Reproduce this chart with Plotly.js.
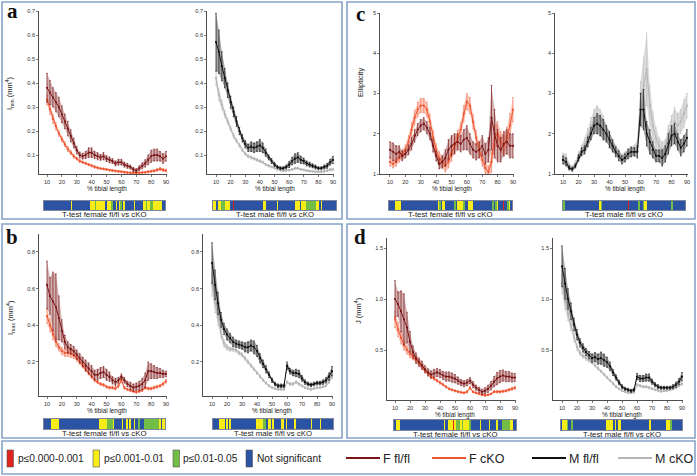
<!DOCTYPE html>
<html><head><meta charset="utf-8">
<script src="https://cdn.plot.ly/plotly-3.0.1.min.js"></script>
<style>html,body{margin:0;padding:0;background:#fff}#chart{width:697px;height:476px}</style>
</head><body><div id="chart"></div>
<script>
// ---------------- DATA ----------------
const pct = [10,12,14,16,18,20,22,24,26,28,30,32,34,36,38,40,42,44,46,48,50,52,54,56,58,60,62,64,66,68,70,72,74,76,78,80,82,84,86,88,90];
const xTicks = [10,20,30,40,50,60,70,80,90];

// a: Imin
const IminF_flfl    = [0.38,0.36,0.34,0.32,0.30,0.27,0.24,0.21,0.18,0.15,0.12,0.10,0.095,0.10,0.11,0.11,0.10,0.095,0.09,0.095,0.085,0.08,0.075,0.065,0.07,0.07,0.06,0.055,0.05,0.04,0.035,0.045,0.055,0.065,0.08,0.095,0.10,0.10,0.095,0.085,0.095];
const IminF_flfl_se = [0.06,0.05,0.04,0.04,0.04,0.035,0.03,0.03,0.025,0.02,0.015,0.012,0.012,0.015,0.02,0.02,0.015,0.015,0.012,0.015,0.012,0.012,0.01,0.01,0.012,0.012,0.01,0.01,0.008,0.008,0.008,0.01,0.012,0.015,0.02,0.025,0.025,0.025,0.02,0.02,0.02];
const IminF_cko     = [0.33,0.29,0.25,0.22,0.19,0.165,0.145,0.125,0.11,0.095,0.085,0.075,0.07,0.065,0.06,0.055,0.05,0.047,0.044,0.042,0.04,0.037,0.035,0.033,0.031,0.03,0.028,0.027,0.026,0.026,0.025,0.026,0.027,0.028,0.03,0.032,0.034,0.038,0.042,0.038,0.035];
const IminF_cko_se  = [0.02,0.02,0.018,0.015,0.012,0.01,0.01,0.01,0.008,0.008,0.006,0.006,0.005,0.005,0.005,0.005,0.005,0.005,0.004,0.004,0.004,0.004,0.004,0.004,0.004,0.004,0.004,0.004,0.004,0.004,0.004,0.004,0.004,0.004,0.005,0.005,0.005,0.006,0.006,0.006,0.006];
const IminM_flfl    = [0.57,0.53,0.47,0.42,0.37,0.32,0.28,0.24,0.20,0.17,0.145,0.13,0.135,0.13,0.135,0.14,0.13,0.11,0.09,0.075,0.06,0.05,0.045,0.045,0.05,0.06,0.075,0.085,0.09,0.08,0.075,0.065,0.06,0.055,0.05,0.045,0.045,0.05,0.055,0.07,0.08];
const IminM_flfl_se = [0.12,0.09,0.06,0.04,0.03,0.025,0.02,0.02,0.015,0.015,0.015,0.015,0.02,0.02,0.02,0.025,0.02,0.015,0.01,0.01,0.008,0.006,0.006,0.006,0.008,0.012,0.015,0.02,0.02,0.015,0.012,0.01,0.01,0.008,0.008,0.006,0.006,0.008,0.01,0.012,0.015];
const IminM_cko     = [0.42,0.35,0.31,0.27,0.24,0.21,0.18,0.16,0.14,0.12,0.105,0.095,0.09,0.085,0.08,0.075,0.07,0.06,0.055,0.05,0.045,0.04,0.037,0.035,0.035,0.037,0.04,0.045,0.045,0.04,0.038,0.035,0.033,0.032,0.03,0.03,0.03,0.032,0.035,0.04,0.04];
const IminM_cko_se  = [0.03,0.025,0.02,0.015,0.012,0.01,0.01,0.008,0.008,0.006,0.006,0.006,0.006,0.006,0.006,0.006,0.005,0.005,0.005,0.004,0.004,0.004,0.004,0.004,0.004,0.004,0.004,0.005,0.005,0.004,0.004,0.004,0.004,0.004,0.004,0.004,0.004,0.004,0.004,0.005,0.005];
const IminTicks = [0.1,0.2,0.3,0.4,0.5,0.6,0.7];

// b: Imax
const ImaxF_flfl    = [0.62,0.56,0.53,0.50,0.44,0.37,0.31,0.28,0.27,0.26,0.24,0.22,0.20,0.18,0.165,0.15,0.13,0.13,0.14,0.145,0.13,0.12,0.10,0.09,0.10,0.12,0.10,0.08,0.07,0.06,0.065,0.07,0.08,0.10,0.15,0.15,0.145,0.14,0.14,0.135,0.135];
const ImaxF_flfl_se = [0.13,0.10,0.16,0.18,0.12,0.06,0.035,0.03,0.025,0.025,0.025,0.025,0.025,0.03,0.03,0.03,0.025,0.03,0.03,0.03,0.03,0.025,0.02,0.02,0.015,0.015,0.015,0.015,0.02,0.02,0.02,0.025,0.03,0.04,0.05,0.04,0.035,0.03,0.025,0.02,0.015];
const ImaxF_cko     = [0.45,0.40,0.35,0.31,0.28,0.26,0.25,0.25,0.245,0.235,0.22,0.20,0.18,0.16,0.14,0.12,0.10,0.09,0.08,0.075,0.065,0.06,0.06,0.055,0.07,0.10,0.06,0.05,0.045,0.04,0.035,0.04,0.045,0.06,0.055,0.055,0.06,0.065,0.07,0.08,0.095];
const ImaxF_cko_se  = [0.04,0.035,0.03,0.025,0.02,0.02,0.02,0.02,0.02,0.015,0.015,0.012,0.012,0.01,0.01,0.01,0.008,0.008,0.008,0.008,0.008,0.008,0.008,0.008,0.01,0.012,0.008,0.006,0.006,0.006,0.006,0.006,0.006,0.008,0.008,0.008,0.008,0.008,0.008,0.01,0.01];
const ImaxM_flfl    = [0.74,0.62,0.52,0.43,0.38,0.35,0.33,0.31,0.30,0.295,0.29,0.28,0.28,0.29,0.28,0.26,0.22,0.19,0.16,0.13,0.10,0.08,0.07,0.07,0.07,0.18,0.15,0.14,0.14,0.135,0.11,0.09,0.08,0.075,0.08,0.085,0.085,0.09,0.10,0.12,0.15];
const ImaxM_flfl_se = [0.11,0.08,0.06,0.04,0.03,0.03,0.025,0.025,0.02,0.02,0.02,0.025,0.03,0.03,0.035,0.03,0.025,0.02,0.02,0.015,0.012,0.01,0.01,0.01,0.01,0.02,0.015,0.015,0.02,0.02,0.015,0.012,0.01,0.01,0.01,0.01,0.01,0.012,0.015,0.02,0.025];
const ImaxM_cko     = [0.62,0.52,0.44,0.36,0.30,0.28,0.27,0.27,0.265,0.25,0.24,0.22,0.20,0.18,0.16,0.14,0.12,0.10,0.085,0.07,0.06,0.055,0.05,0.05,0.05,0.09,0.08,0.08,0.09,0.08,0.07,0.06,0.055,0.05,0.055,0.06,0.06,0.065,0.07,0.09,0.12];
const ImaxM_cko_se  = [0.06,0.05,0.04,0.03,0.02,0.015,0.012,0.012,0.012,0.01,0.01,0.01,0.01,0.008,0.008,0.008,0.008,0.006,0.006,0.006,0.005,0.005,0.005,0.005,0.005,0.008,0.008,0.008,0.008,0.008,0.006,0.006,0.005,0.005,0.005,0.005,0.005,0.006,0.006,0.008,0.01];
const ImaxTicks = [0.2,0.4,0.6,0.8];

// c: Ellipticity
const EllF_flfl    = [1.6,1.55,1.5,1.55,1.45,1.5,1.6,1.75,1.95,2.1,2.2,2.25,2.15,2.0,1.7,1.45,1.25,1.3,1.4,1.6,1.7,1.75,1.8,1.75,1.85,1.9,1.75,1.6,1.55,1.6,1.7,1.5,1.6,2.4,2.0,1.7,1.6,1.75,1.8,1.7,1.7];
const EllF_flfl_se = [0.2,0.22,0.2,0.15,0.12,0.1,0.12,0.15,0.15,0.15,0.15,0.15,0.15,0.15,0.15,0.12,0.12,0.15,0.2,0.25,0.25,0.25,0.2,0.2,0.25,0.3,0.25,0.2,0.2,0.2,0.25,0.25,0.3,0.8,0.6,0.4,0.3,0.3,0.3,0.3,0.3];
const EllF_cko     = [1.3,1.25,1.3,1.4,1.5,1.6,1.8,2.1,2.4,2.6,2.7,2.7,2.6,2.3,1.9,1.6,1.4,1.3,1.2,1.3,1.5,1.7,1.9,2.1,2.5,2.8,2.7,2.3,1.9,1.6,1.35,1.15,1.05,1.3,1.9,2.0,1.8,1.7,1.9,2.2,2.6];
const EllF_cko_se  = [0.1,0.1,0.1,0.1,0.1,0.12,0.15,0.18,0.18,0.18,0.18,0.18,0.18,0.18,0.18,0.15,0.15,0.15,0.15,0.15,0.18,0.18,0.18,0.18,0.2,0.2,0.2,0.18,0.18,0.18,0.15,0.15,0.15,0.25,0.3,0.3,0.25,0.25,0.25,0.3,0.3];
const EllM_flfl    = [1.35,1.3,1.15,1.12,1.2,1.4,1.55,1.6,1.8,2.0,2.2,2.25,2.2,2.1,2.0,1.85,1.7,1.55,1.45,1.35,1.4,1.5,1.55,1.55,1.55,2.6,2.6,2.0,1.8,1.6,1.45,1.45,1.4,1.5,1.75,1.95,2.0,1.8,1.65,1.75,1.9];
const EllM_flfl_se = [0.1,0.1,0.05,0.05,0.05,0.08,0.1,0.1,0.12,0.15,0.2,0.25,0.25,0.25,0.2,0.2,0.15,0.12,0.12,0.1,0.1,0.12,0.12,0.1,0.15,0.4,0.5,0.3,0.3,0.2,0.15,0.15,0.2,0.2,0.25,0.25,0.25,0.2,0.2,0.2,0.2];
const EllM_cko     = [1.4,1.35,1.2,1.15,1.25,1.45,1.6,1.75,1.95,2.2,2.35,2.4,2.3,2.2,2.0,1.85,1.7,1.6,1.5,1.4,1.45,1.5,1.55,1.6,1.7,2.8,3.2,3.6,2.7,2.2,1.9,1.7,1.6,1.6,1.9,2.1,2.3,2.2,2.3,2.5,2.7];
const EllM_cko_se  = [0.12,0.15,0.08,0.05,0.08,0.1,0.12,0.15,0.18,0.2,0.25,0.3,0.3,0.25,0.2,0.18,0.15,0.12,0.12,0.1,0.1,0.1,0.12,0.12,0.15,0.5,0.7,0.9,0.5,0.35,0.25,0.2,0.2,0.25,0.3,0.35,0.35,0.3,0.3,0.35,0.3];
const EllTicks = [1,2,3,4,5];

// d: J
const JF_flfl    = [1.0,0.95,0.88,0.80,0.72,0.58,0.48,0.42,0.38,0.35,0.31,0.28,0.26,0.27,0.28,0.27,0.25,0.24,0.24,0.23,0.22,0.20,0.18,0.17,0.18,0.20,0.16,0.13,0.11,0.09,0.10,0.12,0.15,0.19,0.22,0.24,0.25,0.24,0.24,0.23,0.23];
const JF_flfl_se = [0.18,0.12,0.2,0.25,0.15,0.1,0.06,0.05,0.04,0.04,0.035,0.035,0.035,0.04,0.04,0.04,0.04,0.045,0.045,0.045,0.04,0.035,0.03,0.03,0.03,0.03,0.03,0.025,0.025,0.025,0.03,0.035,0.04,0.05,0.06,0.06,0.055,0.05,0.05,0.045,0.04];
const JF_cko     = [0.80,0.70,0.62,0.55,0.50,0.46,0.44,0.41,0.38,0.34,0.30,0.27,0.24,0.22,0.20,0.18,0.16,0.14,0.12,0.11,0.10,0.09,0.085,0.08,0.09,0.13,0.09,0.08,0.07,0.06,0.055,0.06,0.07,0.09,0.09,0.09,0.095,0.10,0.11,0.12,0.13];
const JF_cko_se  = [0.08,0.07,0.06,0.05,0.04,0.035,0.035,0.03,0.03,0.025,0.02,0.02,0.02,0.015,0.015,0.015,0.012,0.012,0.01,0.01,0.01,0.01,0.01,0.01,0.012,0.015,0.01,0.008,0.008,0.008,0.008,0.008,0.008,0.012,0.012,0.012,0.012,0.012,0.012,0.015,0.015];
const JM_flfl    = [1.32,1.15,1.0,0.88,0.75,0.65,0.57,0.52,0.48,0.45,0.42,0.43,0.41,0.42,0.40,0.38,0.34,0.28,0.23,0.18,0.14,0.12,0.11,0.10,0.11,0.24,0.22,0.22,0.23,0.23,0.19,0.16,0.14,0.13,0.13,0.13,0.13,0.14,0.16,0.19,0.24];
const JM_flfl_se = [0.2,0.15,0.1,0.08,0.06,0.05,0.04,0.04,0.035,0.035,0.04,0.045,0.05,0.06,0.06,0.05,0.04,0.03,0.025,0.02,0.02,0.015,0.015,0.015,0.015,0.03,0.03,0.03,0.035,0.035,0.025,0.02,0.02,0.015,0.015,0.015,0.015,0.02,0.025,0.03,0.04];
const JM_cko     = [1.15,0.98,0.85,0.74,0.62,0.53,0.47,0.44,0.42,0.40,0.38,0.35,0.32,0.29,0.26,0.23,0.20,0.17,0.14,0.12,0.10,0.09,0.08,0.08,0.085,0.16,0.15,0.14,0.14,0.13,0.12,0.11,0.10,0.095,0.10,0.10,0.11,0.12,0.13,0.15,0.17];
const JM_cko_se  = [0.1,0.08,0.06,0.05,0.04,0.03,0.025,0.02,0.02,0.02,0.015,0.015,0.015,0.012,0.012,0.012,0.01,0.01,0.01,0.008,0.008,0.008,0.008,0.008,0.008,0.012,0.012,0.012,0.012,0.012,0.01,0.01,0.01,0.01,0.01,0.01,0.01,0.01,0.012,0.012,0.015];
const JTicks = [0.5,1.0,1.5];
const JTickText = ['0.5','1.0','1.5'];

// T-test significance runs: [from %, to %, level]  level 1: p<=0.000-0.001, 2: p<=0.001-0.01, 3: p<=0.01-0.05 (else not significant)
const stripPct = [];
for (let p = 10; p <= 90; p++) stripPct.push(p);
const sig_Imin_F = [[28,28,2],[41,43,2],[44,44,3],[45,50,2],[52,54,2],[55,55,3],[58,58,2],[60,60,2],[61,61,3],[63,63,2],[70,70,2],[76,77,2],[78,78,3],[79,80,2],[81,82,3],[83,88,2]];
const sig_Imin_M = [[10,11,2],[13,14,2],[15,17,3],[18,20,2],[23,23,1],[43,44,2],[52,52,2],[64,66,2],[68,70,2],[71,77,3],[78,79,2],[81,81,2]];
const sig_Imax_F = [[15,19,2],[47,51,2],[52,55,3],[56,56,2],[62,62,2],[65,65,2],[67,67,2],[70,70,2],[73,73,3],[77,86,3],[87,87,2],[89,90,2]];
const sig_Imax_M = [[14,17,2],[19,19,2],[21,21,2],[39,43,2],[44,45,3],[47,48,2],[50,50,2],[56,57,2],[59,59,2],[65,65,2],[76,76,2],[82,82,2]];
const sig_Ell_F  = [[14,17,2],[42,42,2],[43,43,3],[45,46,2],[53,53,3],[55,58,2],[59,59,3],[62,64,2],[78,78,3],[80,80,3],[81,81,2],[85,85,1],[88,88,3],[89,89,2]];
const sig_Ell_M  = [[10,10,3],[34,34,2],[35,35,3],[53,53,1],[60,60,3],[63,63,3],[64,65,2],[82,82,3]];
const sig_J_F    = [[11,13,2],[43,43,2],[46,48,2],[49,49,1],[50,50,2],[51,53,3],[54,54,2],[55,55,3],[56,59,2],[60,60,3],[67,67,2],[73,73,2],[78,78,2],[82,86,3],[87,88,2]];
const sig_J_M    = [[11,13,2],[14,14,3],[17,17,3],[40,44,2],[46,46,2],[48,49,2],[69,69,2],[80,82,2],[83,83,3]];

const sigLabels = ['p\u22640.000-0.001','p\u22640.001-0.01','p\u22640.01-0.05','Not significant'];
const groupLabels = ['F fl/fl','F cKO','M fl/fl','M cKO'];

// ---------------- STYLE / LAYOUT ----------------
const W = 697, H = 476;
const PX = v => v / W, PY = v => 1 - v / H;
const C_RED = '#e0231c', C_YEL = '#f5ec18', C_GRN = '#71bd45', C_BLU = '#2b52a3';
const ST = {
  Ffl:  {line:'#7a1517', band:'rgba(150,70,70,0.42)', err:'#7a1517'},
  Fcko: {line:'#ee5430', band:'rgba(246,135,105,0.45)', err:'#f27a5c'},
  Mfl:  {line:'#111111', band:'rgba(80,80,80,0.5)', err:'#111111'},
  Mcko: {line:'#b5b5b5', band:'rgba(190,190,190,0.55)', err:'#c2c2c2'}
};
const FONT = 'Liberation Sans, Arial, sans-serif';

const traces = [];
const layout = {
  width: W, height: H, margin:{l:0,r:0,t:0,b:0},
  paper_bgcolor:'#fff', plot_bgcolor:'rgba(0,0,0,0)',
  showlegend:false, font:{family:FONT, color:'#222'},
  shapes:[], annotations:[]
};
const axName = n => n === 1 ? '' : String(n);

function addSeries(n, x, m, e, st) {
  const lo = m.map((v,i) => v - e[i]);
  const up = m.map((v,i) => v + e[i]);
  const ax = {xaxis:'x'+axName(n), yaxis:'y'+axName(n), hoverinfo:'skip', showlegend:false};
  traces.push(Object.assign({x:x, y:lo, mode:'lines', line:{width:0, color:st.band}}, ax));
  traces.push(Object.assign({x:x, y:up, mode:'lines', fill:'tonexty', fillcolor:st.band, line:{width:0, color:st.band}}, ax));
  return Object.assign({x:x, y:m, mode:'lines+markers', line:{color:st.line, width:1},
    marker:{size:2.2, color:st.line},
    error_y:{type:'data', array:e, visible:true, color:st.err, thickness:0.7, width:0.8}}, ax);
}

function plotAxes(n, xd, xr, yd, yr, ytv, ytt) {
  layout['xaxis'+axName(n)] = {domain:[PX(xd[0]),PX(xd[1])], range:xr, anchor:'y'+axName(n),
    tickvals:xTicks, ticks:'outside', ticklen:2, tickwidth:0.6, tickcolor:'#222',
    tickfont:{size:5.6, color:'#333'}, showline:true, linecolor:'#222', linewidth:0.8,
    showgrid:false, zeroline:false, fixedrange:true};
  layout['yaxis'+axName(n)] = {domain:[PY(yd[1]),PY(yd[0])], range:yr, anchor:'x'+axName(n),
    tickvals:ytv, ticktext:ytt, ticks:'outside', ticklen:2, tickwidth:0.6, tickcolor:'#222',
    tickfont:{size:5.6, color:'#333'}, showline:true, linecolor:'#222', linewidth:0.8,
    showgrid:false, zeroline:false, fixedrange:true};
}

function panel(n, xd, xr, yd, yr, ytv, ytt, flM, flE, flSt, koM, koE, koSt) {
  plotAxes(n, xd, xr, yd, yr, ytv, ytt);
  const lk = addSeries(n, pct, koM, koE, koSt);
  const lf = addSeries(n, pct, flM, flE, flSt);
  traces.push(lk); traces.push(lf);
}

function expandRuns(runs) {
  return stripPct.map(p => {
    for (const r of runs) if (p >= r[0] && p <= r[1]) return r[2];
    return 0;
  });
}
function strip(n, xd, yd, runs) {
  layout['xaxis'+n] = {domain:[PX(xd[0]),PX(xd[1])], range:[9.5,90.5], anchor:'y'+n,
    showticklabels:false, ticks:'', showgrid:false, zeroline:false, showline:true, mirror:true,
    linecolor:'#2a3555', linewidth:0.6, fixedrange:true};
  layout['yaxis'+n] = {domain:[PY(yd[1]),PY(yd[0])], range:[-0.5,0.5], anchor:'x'+n,
    showticklabels:false, ticks:'', showgrid:false, zeroline:false, showline:true, mirror:true,
    linecolor:'#2a3555', linewidth:0.6, fixedrange:true};
  traces.push({type:'heatmap', x:stripPct, y:[0], z:[expandRuns(runs)], zmin:0, zmax:3,
    colorscale:[[0,C_BLU],[0.1667,C_BLU],[0.1667,C_RED],[0.5,C_RED],[0.5,C_YEL],[0.8333,C_YEL],[0.8333,C_GRN],[1,C_GRN]],
    showscale:false, hoverinfo:'skip', xaxis:'x'+n, yaxis:'y'+n});
}

// panels
panel(1, [39,167], [4.62,90.67], [11,174], [0.021,0.7], IminTicks, IminTicks.map(String), IminF_flfl, IminF_flfl_se, ST.Ffl, IminF_cko, IminF_cko_se, ST.Fcko);
panel(2, [207,334], [3.85,90.68], [11,174], [0.021,0.7], IminTicks, IminTicks.map(String), IminM_flfl, IminM_flfl_se, ST.Mfl, IminM_cko, IminM_cko_se, ST.Mcko);
panel(3, [39,167], [4.62,90.67], [234,396], [0.0145,0.898], ImaxTicks, ImaxTicks.map(String), ImaxF_flfl, ImaxF_flfl_se, ST.Ffl, ImaxF_cko, ImaxF_cko_se, ST.Fcko);
panel(4, [203,333], [4,90.67], [234,396], [0.0145,0.898], ImaxTicks, ImaxTicks.map(String), ImaxM_flfl, ImaxM_flfl_se, ST.Mfl, ImaxM_cko, ImaxM_cko_se, ST.Mcko);
panel(5, [380,514], [3.5,90.65], [13,174], [1,5], EllTicks, EllTicks.map(String), EllF_flfl, EllF_flfl_se, ST.Ffl, EllF_cko, EllF_cko_se, ST.Fcko);
panel(6, [555,688], [4.84,90.65], [13,174], [1,5], EllTicks, EllTicks.map(String), EllM_flfl, EllM_flfl_se, ST.Mfl, EllM_cko, EllM_cko_se, ST.Mcko);
panel(7, [387,516], [4.67,90.67], [238,400], [0.01,1.598], JTicks, JTickText, JF_flfl, JF_flfl_se, ST.Ffl, JF_cko, JF_cko_se, ST.Fcko);
panel(8, [553,683], [4,90.67], [238,400], [0.01,1.598], JTicks, JTickText, JM_flfl, JM_flfl_se, ST.Mfl, JM_cko, JM_cko_se, ST.Mcko);

// strips
strip(9,  [44,165],  [201,210], sig_Imin_F);
strip(10, [213,336], [201,210], sig_Imin_M);
strip(11, [44,165],  [419,429], sig_Imax_F);
strip(12, [213,333], [419,429], sig_Imax_M);
strip(13, [389,512], [201,210], sig_Ell_F);
strip(14, [563,685], [201,210], sig_Ell_M);
strip(15, [394,516], [420,430], sig_J_F);
strip(16, [561,682], [420,430], sig_J_M);

// ---------- decoration ----------
const A = layout.annotations, S = layout.shapes;
function txt(x, y, t, size, opt) {
  A.push(Object.assign({xref:'paper', yref:'paper', x:PX(x), y:PY(y), text:t, showarrow:false,
    xanchor:'center', yanchor:'middle', font:{family:FONT, size:size, color:'#222'}}, opt||{}));
}
function box(x0,y0,x1,y1,color,width,fill) {
  S.push({type:'rect', xref:'paper', yref:'paper', x0:PX(x0), y0:PY(y1), x1:PX(x1), y1:PY(y0),
    line:{color:color, width:width}, fillcolor:fill||'rgba(0,0,0,0)', layer:'below'});
}
const BORDER = '#86a2c8';
box(2,2,342,219,BORDER,1.6);
box(347,2,695,219,BORDER,1.6);
box(2,224,342,438,BORDER,1.6);
box(347,224,695,438,BORDER,1.6);
box(2,441,695,474,BORDER,1.6);

const SERIF = 'Liberation Serif, Times New Roman, serif';
txt(12,11,'<b>a</b>',21,{font:{family:SERIF,size:21,color:'#111'}});
txt(12,237,'<b>b</b>',21,{font:{family:SERIF,size:21,color:'#111'}});
txt(360,14,'<b>c</b>',21,{font:{family:SERIF,size:21,color:'#111'}});
txt(360,237,'<b>d</b>',21,{font:{family:SERIF,size:21,color:'#111'}});

txt(10,93,'I<sub>min</sub> (mm<sup>4</sup>)',7.5,{textangle:-90});
txt(10,318,'I<sub>max</sub> (mm<sup>4</sup>)',7.5,{textangle:-90});
txt(360,83,'Ellipticity',7.5,{textangle:-90});
txt(358,311,'J (mm<sup>4</sup>)',7.5,{textangle:-90});

const XT = '% tibial length';
txt(106.5,189.5,XT,6.4); txt(274.5,189.5,XT,6.4);
txt(451.5,189.5,XT,6.4); txt(625,189.5,XT,6.4);
txt(106.5,411,XT,6.4);   txt(272,411,XT,6.4);
txt(455,415,XT,6.4);     txt(622,415,XT,6.4);

const CF = 'T-test female fl/fl vs cKO', CM = 'T-test male fl/fl vs cKO';
txt(104.5,214.5,CF,7.8); txt(274.5,214.5,CM,7.8);
txt(450.5,214.5,CF,7.8); txt(624,214.5,CM,7.8);
txt(104.5,433,CF,7.8);   txt(273,433,CM,7.8);
txt(455,434,CF,7.8);     txt(621.5,434,CM,7.8);

// legend
const sigColors = [C_RED, C_YEL, C_GRN, C_BLU];
const sigX = [7, 93, 173, 246];
sigColors.forEach((c,i) => {
  box(sigX[i],450,sigX[i]+6.5,467,'#555',0.6,c);
  txt(sigX[i]+8.5,458.5,sigLabels[i],10.2,{xanchor:'left'});
});
const grpColors = [ST.Ffl.line, ST.Fcko.line, ST.Mfl.line, ST.Mcko.line];
const grpX = [346, 432, 532, 618];
grpColors.forEach((c,i) => {
  S.push({type:'line', xref:'paper', yref:'paper', x0:PX(grpX[i]), x1:PX(grpX[i]+34), y0:PY(458), y1:PY(458), line:{color:c, width:2}});
  txt(grpX[i]+35,458.5,groupLabels[i],12.5,{xanchor:'left'});
});

Plotly.newPlot('chart', traces, layout, {staticPlot:true, displayModeBar:false});
</script>
</body></html>
